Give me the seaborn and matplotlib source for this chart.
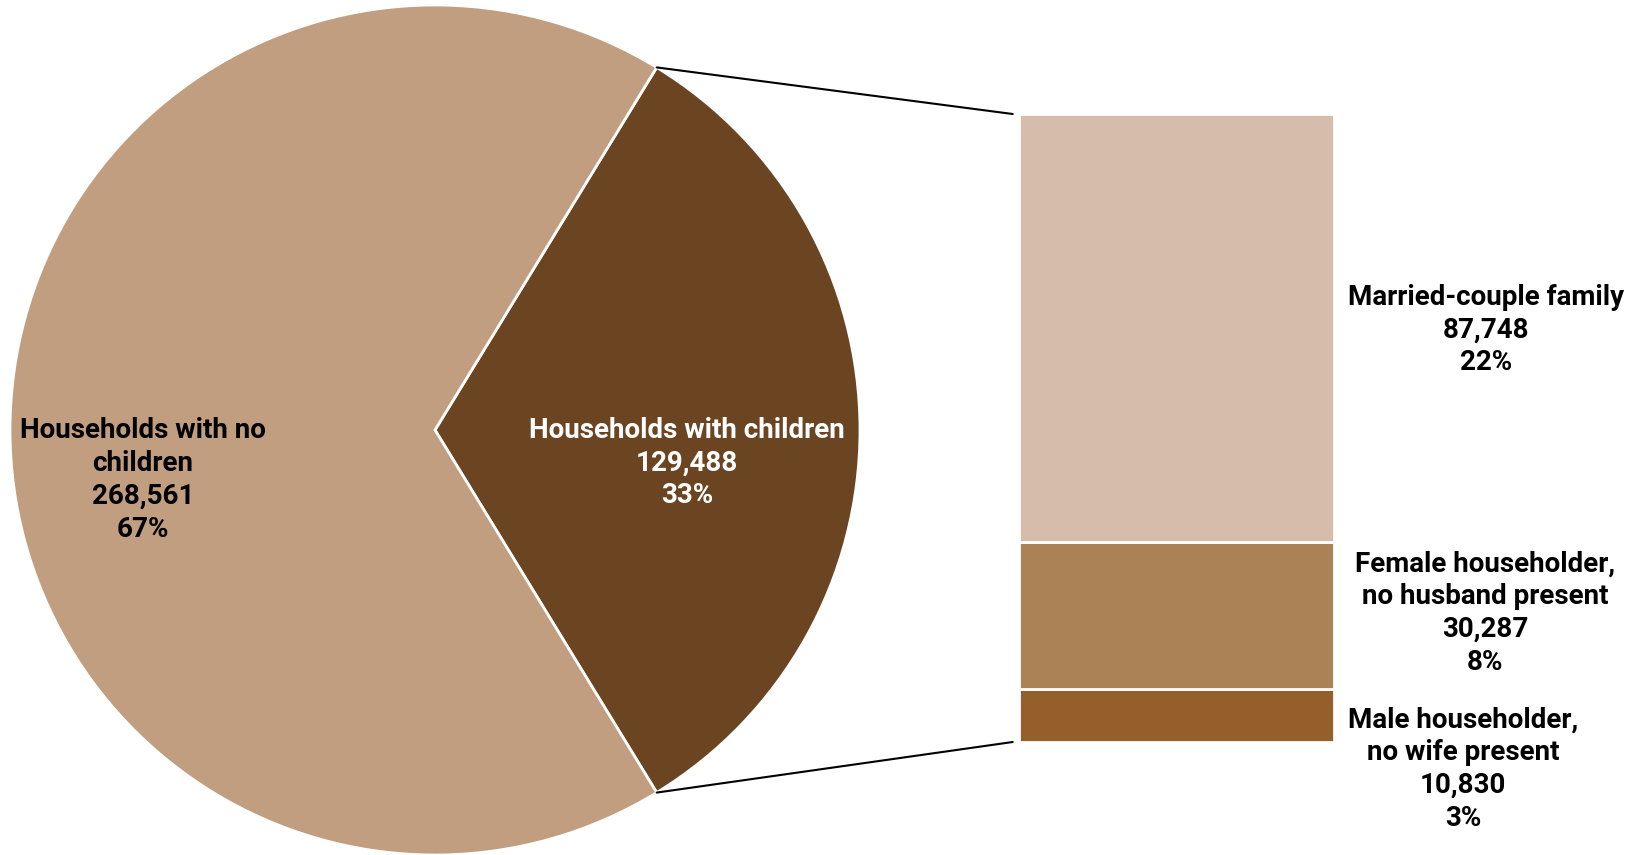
import numpy as np
import seaborn as sns
import matplotlib.pyplot as plt
from matplotlib.patches import ConnectionPatch

# Data
pie_labels = ["Households with children", "Households with no\nchildren"]
pie_values = [129488, 268561]
pie_colors = ["#6B4522", "#C19E80"]
pie_text_colors = ["white", "black"]

bar_labels = ["Male householder,\nno wife present", "Female householder,\nno husband present", "Married-couple family"]
bar_values = [10830, 30287, 87748]
bar_colors = ["#955F2B", "#AA8256", "#D6BCAA"]

W, H = 1644, 855

sns.set_style("white")
plt.rcParams['font.family'] = ['Roboto', 'Liberation Sans', 'DejaVu Sans']

fig = plt.figure(figsize=(W / 100, H / 100), dpi=100)

# Pie on the left
ax_pie = fig.add_axes([10 / W, 0, 850 / W, 850 / H])
total = sum(pie_values)
start = -0.5 * pie_values[0] / total * 360
wedges, _ = ax_pie.pie(pie_values, colors=pie_colors, startangle=start, radius=1,
                       wedgeprops=dict(edgecolor="white", linewidth=2, clip_on=False))
ax_pie.set_xlim(-1, 1)
ax_pie.set_ylim(-1, 1)
ax_pie.set_aspect("equal")
ax_pie.axis("off")

label_pos = [(687, 463), (143, 480)]
for lab, val, col, (px, py) in zip(pie_labels, pie_values, pie_text_colors, label_pos):
    fig.text(px / W, 1 - py / H, f"{lab}\n{val:,}\n{round(val / total * 100)}%",
             ha="center", va="center", multialignment="center", color=col,
             fontsize=20, fontweight="bold", linespacing=1.27)

# Stacked bar on the right
ax_bar = fig.add_axes([1019 / W, (H - 742) / H, 315 / W, 628 / H])
bottom = 0
for val, col in zip(bar_values, bar_colors):
    ax_bar.bar(0, val, bottom=bottom, width=1, color=col, edgecolor="white", linewidth=2)
    bottom += val
ax_bar.set_xlim(-0.5, 0.5)
ax_bar.set_ylim(0, sum(bar_values))
ax_bar.axis("off")

bar_label_pos = [(1463, 769), (1485, 613), (1486, 330)]
for lab, val, (px, py) in zip(bar_labels, bar_values, bar_label_pos):
    fig.text(px / W, 1 - py / H, f"{lab}\n{val:,}\n{round(val / total * 100)}%",
             ha="center", va="center", multialignment="center", color="black",
             fontsize=20, fontweight="bold", linespacing=1.27)

# Connector lines between the pie wedge and the bar
theta1, theta2 = wedges[0].theta1, wedges[0].theta2
for theta, yb in [(theta2, sum(bar_values)), (theta1, 0)]:
    x = np.cos(np.radians(theta))
    y = np.sin(np.radians(theta))
    con = ConnectionPatch(xyA=(-0.52, yb), coordsA=ax_bar.transData,
                          xyB=(x, y), coordsB=ax_pie.transData,
                          color="black", linewidth=1.5)
    fig.add_artist(con)

fig.savefig("out.png", dpi=100)
